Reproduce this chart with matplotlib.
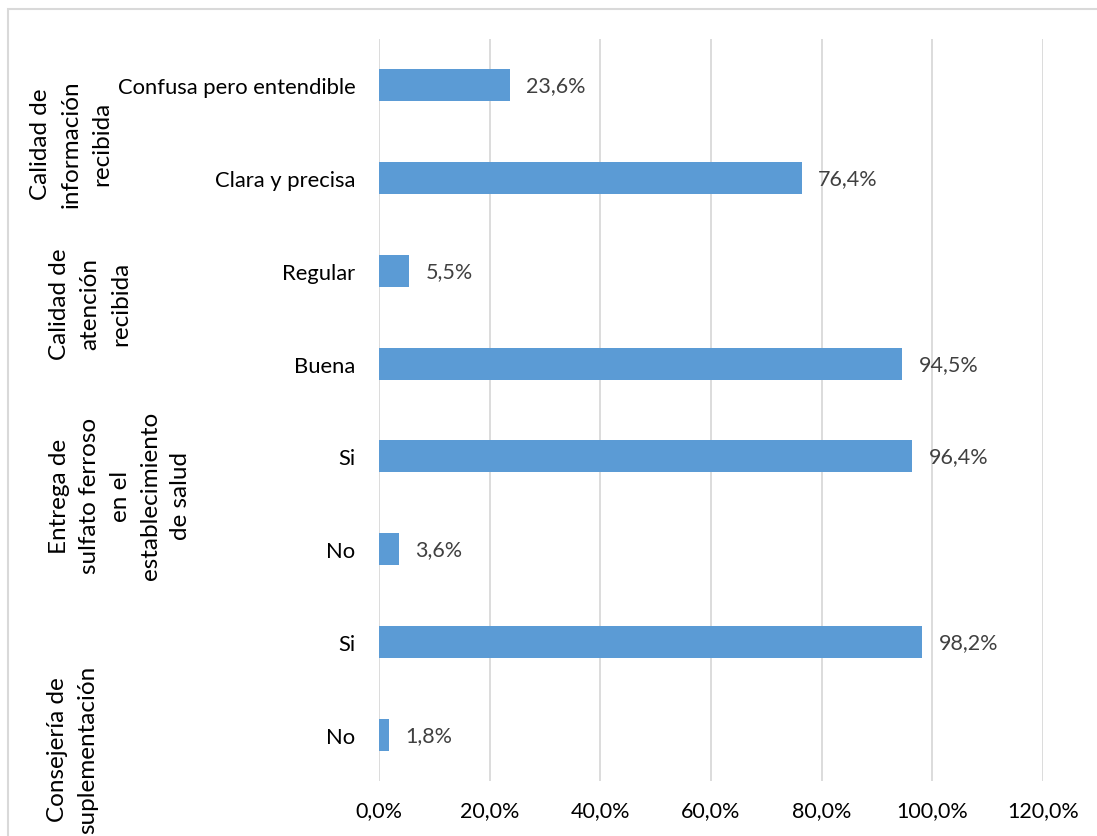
import numpy as np
import matplotlib.pyplot as plt
from matplotlib.patches import Rectangle
from matplotlib.ticker import FuncFormatter

plt.rcParams['font.family'] = ['Lato', 'DejaVu Sans']

# datos (de arriba hacia abajo)
categorias = ["Confusa pero entendible", "Clara y precisa", "Regular", "Buena",
              "Si", "No", "Si", "No"]
valores = [23.6, 76.4, 5.5, 94.5, 96.4, 3.6, 98.2, 1.8]
grupos = ["Calidad de\ninformación\nrecibida",
          "Calidad de\natención\nrecibida",
          "Entrega de\nsulfato ferroso\nen el\nestablecimiento\nde salud",
          "Consejería de\nsuplementación"]
xticks = [0, 20, 40, 60, 80, 100, 120]

fig = plt.figure(figsize=(10.97, 8.37), dpi=100)
ax = fig.add_axes([0.3455, 0.0657, 0.6053, 0.8865])

y = np.arange(len(categorias))
ax.barh(y, valores, height=0.345, color='#5B9BD5', zorder=3)
for yi, v in zip(y, valores):
    ax.text(v + 3, yi, f"{v:.1f}%".replace('.', ','), va='center', ha='left',
            fontsize=15.5, color='#404040')

ax.set_ylim(len(categorias) - 0.5, -0.5)
ax.set_xlim(0, 120)
ax.set_yticks(y)
ax.set_yticklabels(categorias, fontsize=15.8)
ax.set_xticks(xticks)
ax.xaxis.set_major_formatter(FuncFormatter(lambda v, p: f"{v:.1f}%".replace('.', ',')))
ax.tick_params(axis='x', labelsize=15.5, length=0, pad=14)
ax.tick_params(axis='y', length=0, pad=17)
ax.grid(axis='x', color='#D9D9D9', linewidth=1.3, zorder=0)
for s in ax.spines.values():
    s.set_visible(False)

# etiquetas de grupo
pos_grupos = [(0.065, 0.828), (0.082, 0.637), (0.1095, 0.407), (0.066, 0.104)]
for txt, (gx, gy) in zip(grupos, pos_grupos):
    fig.text(gx, gy, txt, rotation=90, ha='center', va='center',
             multialignment='center', fontsize=17.5, linespacing=1.55)

fig.patches.append(Rectangle((8 / 1097, -0.01), 1.1, 1 - 10 / 837 + 0.01,
                             transform=fig.transFigure, fill=False,
                             edgecolor='#D9D9D9', linewidth=1.5))

fig.savefig('out.png', dpi=100, facecolor='white')
